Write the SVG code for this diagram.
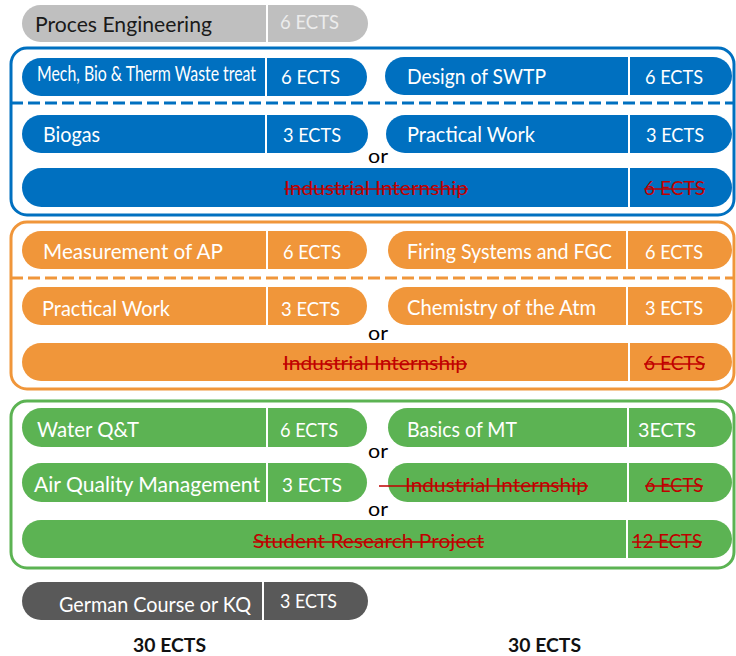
<svg xmlns="http://www.w3.org/2000/svg" width="736" height="656" viewBox="0 0 736 656">
<style>
text{font-family:Lato,"Liberation Sans",sans-serif;}
.w{fill:#ffffff;font-size:21px;}
.e{fill:#ffffff;font-size:20px;}
.s{fill:#c00000;font-size:20px;}
.st{stroke:#c00000;stroke-width:1.6;}
.dv{stroke:#ffffff;stroke-width:2;}
.blue{fill:#0070c0;}
.orange{fill:#f0963a;}
.green{fill:#5cb353;}
.or{fill:#000000;font-size:20px;}
</style>
<rect width="736" height="656" fill="#ffffff"/>

<g id="frames" fill="none" stroke-width="3">
<rect x="11" y="48" width="723" height="167" rx="16" stroke="#0070c0"/>
<rect x="11" y="222" width="723" height="167" rx="16" stroke="#f0963a"/>
<rect x="11" y="401" width="723" height="167" rx="16" stroke="#5cb353"/>
</g>
<g id="connectors" stroke-width="3" stroke-dasharray="12 5">
<line x1="11" y1="103" x2="734" y2="103" stroke="#0070c0"/>
<line x1="11" y1="278" x2="734" y2="278" stroke="#f0963a"/>
</g>

<g id="proces">
<rect x="22" y="5" width="346" height="37" rx="18.5" fill="#bfbfbf"/>
<line class="dv" x1="267" y1="5" x2="267" y2="42"/>
<text x="35" y="32" font-size="21" fill="#1a1a1a" textLength="177" lengthAdjust="spacingAndGlyphs">Proces Engineering</text>
<text x="280" y="29" font-size="19" fill="#ececec" textLength="59" lengthAdjust="spacingAndGlyphs">6 ECTS</text>
</g>

<g id="mech">
<rect class="blue" x="22" y="58" width="345" height="38" rx="19"/>
<line class="dv" x1="266" y1="58" x2="266" y2="96"/>
<text class="w" x="37" y="81" font-size="15" textLength="219" lengthAdjust="spacingAndGlyphs">Mech, Bio &amp; Therm Waste treat</text>
<text class="e" x="281" y="84" textLength="59" lengthAdjust="spacingAndGlyphs">6 ECTS</text>
</g>
<g id="swtp">
<rect class="blue" x="385" y="57" width="347" height="38" rx="19"/>
<line class="dv" x1="629" y1="57" x2="629" y2="95"/>
<text class="w" x="407" y="84" textLength="139" lengthAdjust="spacingAndGlyphs">Design of SWTP</text>
<text class="e" x="645" y="84" textLength="58" lengthAdjust="spacingAndGlyphs">6 ECTS</text>
</g>
<g id="biogas">
<rect class="blue" x="22" y="115" width="346" height="38" rx="19"/>
<line class="dv" x1="266" y1="115" x2="266" y2="153"/>
<text class="w" x="43" y="142" textLength="57" lengthAdjust="spacingAndGlyphs">Biogas</text>
<text class="e" x="283" y="142" textLength="58" lengthAdjust="spacingAndGlyphs">3 ECTS</text>
</g>
<g id="practical1">
<rect class="blue" x="386" y="115" width="346" height="38" rx="19"/>
<line class="dv" x1="629" y1="115" x2="629" y2="153"/>
<text class="w" x="407" y="142" textLength="128" lengthAdjust="spacingAndGlyphs">Practical Work</text>
<text class="e" x="646" y="142" textLength="58" lengthAdjust="spacingAndGlyphs">3 ECTS</text>
</g>
<text class="or" x="368" y="163" textLength="20" lengthAdjust="spacingAndGlyphs">or</text>
<g id="intern1">
<rect class="blue" x="22" y="168" width="710" height="39" rx="19.5"/>
<line class="dv" x1="629" y1="168" x2="629" y2="207"/>
<text class="s" x="284" y="195" textLength="184" lengthAdjust="spacingAndGlyphs">Industrial Internship</text>
<line class="st" x1="284" y1="189" x2="468" y2="189"/>
<text class="s" x="644" y="195" textLength="61" lengthAdjust="spacingAndGlyphs">6 ECTS</text>
<line class="st" x1="644" y1="189" x2="705" y2="189"/>
</g>

<g id="measurement">
<rect class="orange" x="22" y="231" width="345" height="38" rx="19"/>
<line class="dv" x1="267" y1="231" x2="267" y2="269"/>
<text class="w" x="43" y="259" textLength="180" lengthAdjust="spacingAndGlyphs">Measurement of AP</text>
<text class="e" x="283" y="259" textLength="58" lengthAdjust="spacingAndGlyphs">6 ECTS</text>
</g>
<g id="firing">
<rect class="orange" x="388" y="231" width="344" height="38" rx="19"/>
<line class="dv" x1="627" y1="231" x2="627" y2="269"/>
<text class="w" x="407" y="259" textLength="205" lengthAdjust="spacingAndGlyphs">Firing Systems and FGC</text>
<text class="e" x="645" y="259" textLength="58" lengthAdjust="spacingAndGlyphs">6 ECTS</text>
</g>
<g id="practical2">
<rect class="orange" x="22" y="287" width="345" height="38" rx="19"/>
<line class="dv" x1="267" y1="287" x2="267" y2="325"/>
<text class="w" x="42" y="316" textLength="128" lengthAdjust="spacingAndGlyphs">Practical Work</text>
<text class="e" x="281" y="316" textLength="59" lengthAdjust="spacingAndGlyphs">3 ECTS</text>
</g>
<g id="chemistry">
<rect class="orange" x="388" y="287" width="344" height="38" rx="19"/>
<line class="dv" x1="627" y1="287" x2="627" y2="325"/>
<text class="w" x="407" y="315" textLength="189" lengthAdjust="spacingAndGlyphs">Chemistry of the Atm</text>
<text class="e" x="645" y="315" textLength="58" lengthAdjust="spacingAndGlyphs">3 ECTS</text>
</g>
<text class="or" x="368" y="340" textLength="20" lengthAdjust="spacingAndGlyphs">or</text>
<g id="intern2">
<rect class="orange" x="22" y="343" width="710" height="38" rx="19"/>
<line class="dv" x1="629" y1="343" x2="629" y2="381"/>
<text class="s" x="283" y="370" textLength="184" lengthAdjust="spacingAndGlyphs">Industrial Internship</text>
<line class="st" x1="283" y1="364" x2="467" y2="364"/>
<text class="s" x="644" y="370" textLength="61" lengthAdjust="spacingAndGlyphs">6 ECTS</text>
<line class="st" x1="644" y1="364" x2="705" y2="364"/>
</g>

<g id="water">
<rect class="green" x="22" y="408" width="345" height="39" rx="19.5"/>
<line class="dv" x1="267" y1="408" x2="267" y2="447"/>
<text class="w" x="37" y="437" textLength="102" lengthAdjust="spacingAndGlyphs">Water Q&amp;T</text>
<text class="e" x="280" y="437" textLength="58" lengthAdjust="spacingAndGlyphs">6 ECTS</text>
</g>
<g id="basics">
<rect class="green" x="388" y="408" width="344" height="39" rx="19.5"/>
<line class="dv" x1="628" y1="408" x2="628" y2="447"/>
<text class="w" x="407" y="437" textLength="110" lengthAdjust="spacingAndGlyphs">Basics of MT</text>
<text class="e" x="638" y="437" textLength="58" lengthAdjust="spacingAndGlyphs">3ECTS</text>
</g>
<text class="or" x="368" y="458" textLength="20" lengthAdjust="spacingAndGlyphs">or</text>
<g id="airquality">
<rect class="green" x="22" y="463" width="345" height="39" rx="19.5"/>
<line class="dv" x1="267" y1="463" x2="267" y2="502"/>
<text class="w" x="34" y="492" textLength="226" lengthAdjust="spacingAndGlyphs">Air Quality Management</text>
<text class="e" x="282" y="492" textLength="60" lengthAdjust="spacingAndGlyphs">3 ECTS</text>
</g>
<g id="intern3">
<rect class="green" x="388" y="463" width="344" height="39" rx="19.5"/>
<line class="dv" x1="628" y1="463" x2="628" y2="502"/>
<text class="s" x="405" y="492" textLength="183" lengthAdjust="spacingAndGlyphs">Industrial Internship</text>
<line class="st" x1="379" y1="486" x2="588" y2="486"/>
<text class="s" x="645" y="492" textLength="58" lengthAdjust="spacingAndGlyphs">6 ECTS</text>
<line class="st" x1="645" y1="486" x2="703" y2="486"/>
</g>
<text class="or" x="368" y="516" textLength="20" lengthAdjust="spacingAndGlyphs">or</text>
<g id="research">
<rect class="green" x="22" y="520" width="710" height="38" rx="19"/>
<line class="dv" x1="627" y1="520" x2="627" y2="558"/>
<text class="s" x="253" y="548" textLength="231" lengthAdjust="spacingAndGlyphs">Student Research Project</text>
<line class="st" x1="253" y1="542" x2="484" y2="542"/>
<text class="s" x="632" y="548" textLength="70" lengthAdjust="spacingAndGlyphs">12 ECTS</text>
<line class="st" x1="632" y1="542" x2="702" y2="542"/>
</g>

<g id="german">
<rect x="22" y="582" width="346" height="38" rx="19" fill="#595959"/>
<line class="dv" x1="263" y1="582" x2="263" y2="620"/>
<text class="w" x="59" y="612" font-size="20" textLength="192" lengthAdjust="spacingAndGlyphs">German Course or KQ</text>
<text class="e" x="280" y="608" textLength="57" lengthAdjust="spacingAndGlyphs">3 ECTS</text>
</g>

<g id="totals" font-weight="bold" font-size="19" fill="#111111">
<text x="133" y="652" textLength="73" lengthAdjust="spacingAndGlyphs">30 ECTS</text>
<text x="508" y="652" textLength="73" lengthAdjust="spacingAndGlyphs">30 ECTS</text>
</g>
</svg>
